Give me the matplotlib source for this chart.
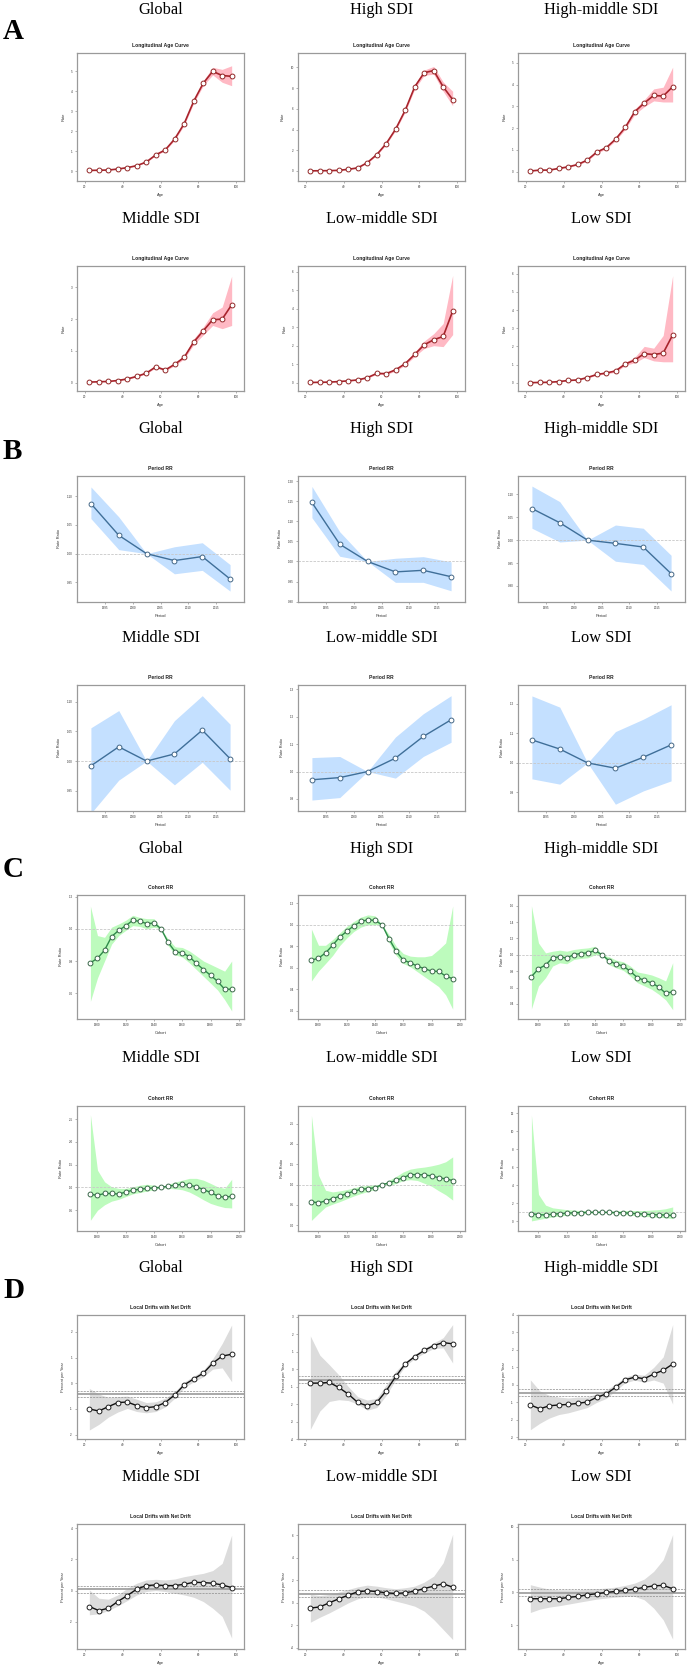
import matplotlib
matplotlib.use("Agg")
import matplotlib.pyplot as plt
from matplotlib.ticker import FixedLocator, FormatStrFormatter

# ---------------- DATA ----------------
REGIONS = ["Global", "High SDI", "High-middle SDI", "Middle SDI", "Low-middle SDI", "Low SDI"]
AGES = [22.5, 27.5, 32.5, 37.5, 42.5, 47.5, 52.5, 57.5, 62.5, 67.5, 72.5, 77.5, 82.5, 87.5, 92.5, 97.5]
PERIODS = [1992.5, 1997.5, 2002.5, 2007.5, 2012.5, 2017.5]
COHORTS = [1895, 1900, 1905, 1910, 1915, 1920, 1925, 1930, 1935, 1940, 1945,
           1950, 1955, 1960, 1965, 1970, 1975, 1980, 1985, 1990, 1995]

# A: Longitudinal age curve (rate, lower, upper)
A_GLOBAL = [0.03, 0.04, 0.05, 0.10, 0.17, 0.27, 0.45, 0.81, 1.06, 1.61, 2.38, 3.50, 4.40, 5.00, 4.79, 4.75]
A_GLOBAL_LO = [0.03, 0.04, 0.05, 0.09, 0.16, 0.26, 0.43, 0.78, 1.02, 1.55, 2.30, 3.40, 4.28, 4.82, 4.45, 4.28]
A_GLOBAL_HI = [0.03, 0.04, 0.05, 0.11, 0.18, 0.28, 0.47, 0.84, 1.10, 1.67, 2.46, 3.60, 4.52, 5.20, 5.10, 5.28]
A_HIGH = [0.01, 0.02, 0.03, 0.06, 0.16, 0.30, 0.80, 1.58, 2.65, 4.06, 5.87, 8.13, 9.50, 9.70, 8.13, 6.90]
A_HIGH_LO = [0.01, 0.02, 0.03, 0.05, 0.14, 0.27, 0.75, 1.50, 2.55, 3.93, 5.70, 7.90, 9.25, 9.35, 7.70, 6.30]
A_HIGH_HI = [0.01, 0.02, 0.03, 0.07, 0.18, 0.33, 0.85, 1.66, 2.75, 4.19, 6.04, 8.36, 9.75, 10.10, 8.60, 7.70]
A_HM = [0.03, 0.07, 0.07, 0.15, 0.22, 0.33, 0.53, 0.90, 1.10, 1.50, 2.03, 2.75, 3.15, 3.50, 3.47, 3.90]
A_HM_LO = [0.03, 0.06, 0.06, 0.13, 0.20, 0.30, 0.49, 0.85, 1.04, 1.43, 1.94, 2.63, 2.98, 3.25, 3.20, 3.20]
A_HM_HI = [0.04, 0.08, 0.08, 0.17, 0.24, 0.36, 0.57, 0.95, 1.16, 1.57, 2.12, 2.87, 3.30, 3.80, 3.88, 4.80]
A_MID = [0.02, 0.03, 0.04, 0.07, 0.12, 0.20, 0.30, 0.50, 0.40, 0.58, 0.80, 1.28, 1.63, 1.98, 2.00, 2.45]
A_MID_LO = [0.02, 0.03, 0.04, 0.06, 0.11, 0.18, 0.28, 0.47, 0.37, 0.54, 0.75, 1.20, 1.50, 1.80, 1.70, 1.80]
A_MID_HI = [0.02, 0.03, 0.04, 0.08, 0.13, 0.22, 0.32, 0.53, 0.43, 0.62, 0.85, 1.38, 1.75, 2.20, 2.38, 3.35]
A_LM = [0.01, 0.02, 0.03, 0.06, 0.10, 0.15, 0.27, 0.50, 0.49, 0.70, 1.03, 1.53, 2.05, 2.32, 2.50, 3.87]
A_LM_LO = [0.01, 0.02, 0.03, 0.05, 0.09, 0.13, 0.24, 0.45, 0.44, 0.63, 0.95, 1.42, 1.85, 2.00, 1.95, 2.60]
A_LM_HI = [0.01, 0.02, 0.03, 0.07, 0.11, 0.17, 0.30, 0.55, 0.54, 0.77, 1.11, 1.65, 2.25, 2.65, 3.20, 5.80]
A_LOW = [0.00, 0.01, 0.02, 0.06, 0.12, 0.15, 0.28, 0.45, 0.53, 0.65, 1.03, 1.24, 1.60, 1.55, 1.63, 2.63]
A_LOW_LO = [0.00, 0.01, 0.02, 0.05, 0.10, 0.13, 0.25, 0.41, 0.48, 0.58, 0.95, 1.10, 1.38, 1.20, 1.15, 1.15]
A_LOW_HI = [0.01, 0.02, 0.03, 0.07, 0.14, 0.18, 0.31, 0.50, 0.58, 0.72, 1.12, 1.40, 2.00, 1.90, 2.60, 5.90]

# B: Period rate ratios
B_GLOBAL = [1.087, 1.032, 1.000, 0.988, 0.995, 0.956]
B_GLOBAL_LO = [1.061, 1.007, 1.000, 0.965, 0.971, 0.935]
B_GLOBAL_HI = [1.116, 1.064, 1.000, 1.012, 1.019, 0.981]
B_HIGH = [1.147, 1.043, 1.000, 0.974, 0.978, 0.962]
B_HIGH_LO = [1.109, 1.013, 1.000, 0.948, 0.948, 0.927]
B_HIGH_HI = [1.187, 1.074, 1.000, 1.008, 1.012, 0.999]
B_HM = [1.069, 1.038, 1.000, 0.993, 0.985, 0.927]
B_HM_LO = [1.026, 0.996, 1.000, 0.954, 0.947, 0.889]
B_HM_HI = [1.118, 1.084, 1.000, 1.033, 1.026, 0.967]
B_MID = [0.992, 1.024, 1.000, 1.012, 1.052, 1.004]
B_MID_LO = [0.912, 0.968, 1.000, 0.960, 0.998, 0.951]
B_MID_HI = [1.056, 1.085, 1.000, 1.068, 1.110, 1.062]
B_LM = [0.970, 0.978, 1.000, 1.049, 1.128, 1.189]
B_LM_LO = [0.896, 0.905, 1.000, 0.976, 1.055, 1.107]
B_LM_HI = [1.051, 1.055, 1.000, 1.126, 1.211, 1.277]
B_LOW = [1.078, 1.047, 1.000, 0.982, 1.019, 1.061]
B_LOW_LO = [0.946, 0.928, 1.000, 0.860, 0.905, 0.939]
B_LOW_HI = [1.227, 1.189, 1.000, 1.106, 1.148, 1.197]

# C: Cohort rate ratios
C_GLOBAL = [0.789, 0.817, 0.867, 0.952, 0.990, 1.019, 1.053, 1.046, 1.032, 1.036, 1.000,
            0.916, 0.857, 0.851, 0.827, 0.785, 0.747, 0.712, 0.674, 0.625, 0.625]
C_GLOBAL_LO = [0.55, 0.695, 0.800, 0.905, 0.958, 0.990, 1.020, 1.015, 1.000, 1.010, 1.000,
               0.895, 0.838, 0.825, 0.789, 0.747, 0.705, 0.663, 0.620, 0.560, 0.490]
C_GLOBAL_HI = [1.141, 0.958, 0.947, 1.010, 1.030, 1.053, 1.084, 1.070, 1.063, 1.063, 1.000,
               0.937, 0.888, 0.884, 0.863, 0.832, 0.800, 0.779, 0.758, 0.737, 0.800]
C_HIGH = [0.671, 0.689, 0.738, 0.809, 0.886, 0.938, 0.991, 1.031, 1.046, 1.040, 1.000,
          0.868, 0.754, 0.671, 0.646, 0.615, 0.591, 0.569, 0.566, 0.523, 0.498]
C_HIGH_LO = [0.477, 0.569, 0.640, 0.714, 0.806, 0.877, 0.938, 0.978, 1.000, 1.000, 1.000,
             0.831, 0.714, 0.640, 0.609, 0.563, 0.517, 0.471, 0.425, 0.348, 0.215]
C_HIGH_HI = [0.960, 0.809, 0.809, 0.862, 0.923, 0.985, 1.031, 1.071, 1.092, 1.083, 1.000,
             0.908, 0.800, 0.732, 0.708, 0.702, 0.702, 0.714, 0.769, 0.831, 1.175]
C_HM = [0.733, 0.830, 0.875, 0.964, 0.976, 0.960, 1.004, 1.016, 1.024, 1.053, 1.000,
        0.927, 0.887, 0.863, 0.798, 0.721, 0.689, 0.657, 0.608, 0.531, 0.548]
C_HM_LO = [0.340, 0.620, 0.721, 0.863, 0.903, 0.891, 0.943, 0.956, 0.964, 1.000, 1.000,
           0.880, 0.840, 0.810, 0.740, 0.660, 0.620, 0.580, 0.520, 0.450, 0.330]
C_HM_HI = [1.600, 1.145, 1.024, 1.044, 1.057, 1.044, 1.065, 1.077, 1.085, 1.105, 1.000,
           0.976, 0.935, 0.915, 0.863, 0.790, 0.774, 0.754, 0.721, 0.681, 0.903]
C_MID = [0.846, 0.830, 0.868, 0.868, 0.855, 0.900, 0.940, 0.963, 0.978, 0.993, 1.000,
         1.030, 1.050, 1.070, 1.050, 1.015, 0.955, 0.890, 0.816, 0.780, 0.810]
C_MID_LO = [0.280, 0.500, 0.620, 0.700, 0.740, 0.800, 0.860, 0.890, 0.920, 0.950, 1.000,
            0.980, 0.970, 0.950, 0.900, 0.820, 0.730, 0.650, 0.600, 0.560, 0.550]
C_MID_HI = [2.600, 1.380, 1.125, 1.015, 0.980, 0.980, 1.015, 1.050, 1.070, 1.050, 1.000,
            1.070, 1.120, 1.160, 1.200, 1.200, 1.160, 1.090, 1.015, 0.980, 1.180]
C_LM = [0.580, 0.550, 0.600, 0.656, 0.713, 0.779, 0.836, 0.885, 0.900, 0.926, 1.000,
        1.040, 1.107, 1.170, 1.245, 1.245, 1.238, 1.213, 1.170, 1.140, 1.100]
C_LM_LO = [0.12, 0.29, 0.45, 0.52, 0.58, 0.65, 0.72, 0.78, 0.83, 0.88, 1.00,
           0.98, 1.03, 1.10, 1.12, 1.10, 1.03, 0.96, 0.85, 0.75, 0.62]
C_LM_HI = [2.70, 1.23, 0.86, 0.82, 0.845, 0.877, 0.92, 0.96, 0.98, 1.00, 1.00,
           1.107, 1.20, 1.31, 1.38, 1.41, 1.43, 1.46, 1.50, 1.56, 1.68]
C_LOW = [0.85, 0.75, 0.70, 0.80, 0.85, 0.90, 0.95, 0.97, 1.00, 1.00, 1.00,
         1.00, 0.97, 0.95, 0.90, 0.85, 0.80, 0.75, 0.72, 0.70, 0.65]
C_LOW_LO = [0.05, 0.20, 0.35, 0.50, 0.60, 0.68, 0.75, 0.82, 0.90, 0.95, 1.00,
            0.92, 0.85, 0.78, 0.70, 0.62, 0.55, 0.50, 0.45, 0.40, 0.30]
C_LOW_HI = [11.8, 3.0, 1.8, 1.5, 1.4, 1.3, 1.25, 1.2, 1.15, 1.1, 1.0,
            1.1, 1.15, 1.2, 1.2, 1.2, 1.2, 1.25, 1.3, 1.4, 1.6]

# D: Local drifts with net drift (percent per year)
D_GLOBAL = [-1.00, -1.08, -0.91, -0.75, -0.73, -0.87, -0.95, -0.91, -0.75, -0.45, -0.06, 0.17, 0.39, 0.78, 1.06, 1.13]
D_GLOBAL_LO = [-1.82, -1.60, -1.32, -1.12, -0.98, -1.10, -1.15, -1.10, -0.92, -0.58, -0.17, 0.06, 0.25, 0.55, 0.60, 0.06]
D_GLOBAL_HI = [-0.20, -0.42, -0.55, -0.52, -0.50, -0.62, -0.75, -0.72, -0.58, -0.33, 0.05, 0.28, 0.50, 0.95, 1.55, 2.27]
D_HIGH = [-0.80, -0.80, -0.76, -1.05, -1.43, -1.91, -2.10, -1.91, -1.24, -0.42, 0.30, 0.72, 1.07, 1.35, 1.52, 1.45]
D_HIGH_LO = [-3.45, -2.40, -1.85, -1.75, -1.80, -2.00, -2.35, -2.20, -1.50, -0.60, 0.18, 0.60, 0.92, 1.18, 1.22, 0.35]
D_HIGH_HI = [1.90, 0.80, 0.25, -0.33, -1.00, -1.58, -1.77, -1.67, -0.90, -0.13, 0.42, 0.85, 1.20, 1.50, 1.80, 2.55]
D_HM = [-1.15, -1.37, -1.20, -1.15, -1.12, -1.06, -0.98, -0.71, -0.52, -0.13, 0.29, 0.44, 0.35, 0.62, 0.83, 1.19]
D_HM_LO = [-2.57, -2.20, -1.90, -1.70, -1.60, -1.45, -1.30, -1.00, -0.78, -0.33, 0.12, 0.27, 0.15, 0.28, 0.10, -1.10]
D_HM_HI = [0.29, -0.35, -0.60, -0.70, -0.75, -0.70, -0.70, -0.50, -0.30, 0.05, 0.45, 0.60, 0.55, 1.00, 1.60, 3.45]
D_MID = [-1.02, -1.28, -1.13, -0.70, -0.32, 0.09, 0.32, 0.36, 0.32, 0.32, 0.40, 0.53, 0.51, 0.47, 0.36, 0.19]
D_MID_LO = [-1.55, -1.49, -1.28, -0.98, -0.64, -0.28, -0.06, 0.00, -0.06, -0.17, -0.28, -0.43, -0.70, -1.13, -1.66, -3.04]
D_MID_HI = [0.04, -0.49, -0.55, -0.28, 0.15, 0.47, 0.68, 0.72, 0.68, 0.74, 0.89, 1.00, 1.10, 1.28, 1.74, 3.55]
D_LM = [-0.47, -0.36, 0.00, 0.36, 0.68, 0.98, 1.07, 1.00, 0.89, 0.83, 0.89, 1.04, 1.27, 1.48, 1.69, 1.39]
D_LM_LO = [-1.72, -1.28, -0.89, -0.45, 0.00, 0.36, 0.53, 0.53, 0.36, 0.15, -0.06, -0.30, -0.74, -1.48, -2.37, -3.26]
D_LM_HI = [0.74, 0.65, 0.74, 0.95, 1.19, 1.42, 1.57, 1.48, 1.34, 1.25, 1.34, 1.48, 1.84, 2.37, 3.56, 6.08]
D_LOW = [-0.96, -0.96, -0.96, -0.96, -0.76, -0.61, -0.36, -0.20, 0.00, 0.15, 0.30, 0.51, 0.76, 1.00, 1.07, 0.56]
D_LOW_LO = [-3.05, -2.54, -2.23, -2.03, -1.78, -1.52, -1.27, -1.02, -0.86, -0.71, -0.61, -0.61, -1.12, -2.39, -4.16, -7.10]
D_LOW_HI = [1.17, 0.81, 0.50, 0.40, 0.40, 0.40, 0.50, 0.56, 0.66, 0.81, 1.07, 1.42, 2.03, 3.20, 4.97, 8.78]
# net drift: estimate, lower, upper
NET_DRIFT = [-0.42, -0.61, -0.44, 0.08, 0.80, -0.10]
NET_DRIFT_LO = [-0.52, -0.80, -0.62, -0.17, 0.53, -0.61]
NET_DRIFT_HI = [-0.29, -0.38, -0.25, 0.28, 1.10, 0.46]

# ---------------- LAYOUT ----------------
W, H = 688, 1667
fig = plt.figure(figsize=(W / 100, H / 100), dpi=100)
fig.patch.set_facecolor("white")

COL_LEFT = [77, 298, 518]
BOX_W = 167
ROW_TOP = [53, 266, 476, 685, 895, 1106, 1315, 1524]
BOX_H = [128, 125, 126, 126, 124, 125, 124, 125]
TITLE_BASE = [14, 223, 433, 642, 853, 1062, 1272, 1481]
LETTER_BASE = {"A": 39, "B": 459, "C": 877, "D": 1298}

SERIF = ["Liberation Serif", "DejaVu Serif"]
SANS = ["Liberation Sans", "DejaVu Sans"]
FRAME = "#9a9a9a"
MS = 3.5
MEW = 0.65


def fy(py):
    return 1 - py / H


def make_ax(row, col):
    x0 = COL_LEFT[col]
    top = ROW_TOP[row]
    h = BOX_H[row]
    ax = fig.add_axes([x0 / W, fy(top + h), BOX_W / W, h / H])
    for s in ax.spines.values():
        s.set_color(FRAME)
        s.set_linewidth(0.9)
    ax.tick_params(axis="both", which="major", length=1.6, width=0.4, color="#777777",
                   labelsize=2.2, pad=1.4, labelcolor="#333333")
    return ax


def style_labels(ax, title, xlabel, ylabel):
    ax.set_title(title, fontsize=3.6, fontweight="bold", family=SANS, pad=4, color="#222222")
    ax.set_xlabel(xlabel, fontsize=2.9, family=SANS, labelpad=2.5, color="#333333")
    ax.set_ylabel(ylabel, fontsize=2.9, family=SANS, labelpad=4, color="#333333")
    for lab in ax.get_xticklabels() + ax.get_yticklabels():
        lab.set_family(SANS)


PANELS_A = [
    (A_GLOBAL, A_GLOBAL_LO, A_GLOBAL_HI, (-0.5, 5.92), [0, 1, 2, 3, 4, 5]),
    (A_HIGH, A_HIGH_LO, A_HIGH_HI, (-0.97, 11.4), [0, 2, 4, 6, 8, 10]),
    (A_HM, A_HM_LO, A_HM_HI, (-0.43, 5.45), [0, 1, 2, 3, 4, 5]),
    (A_MID, A_MID_LO, A_MID_HI, (-0.26, 3.67), [0, 1, 2, 3]),
    (A_LM, A_LM_LO, A_LM_HI, (-0.45, 6.31), [0, 1, 2, 3, 4, 5, 6]),
    (A_LOW, A_LOW_LO, A_LOW_HI, (-0.46, 6.43), [0, 1, 2, 3, 4, 5, 6]),
]
PANELS_B = [
    (B_GLOBAL, B_GLOBAL_LO, B_GLOBAL_HI, (0.916, 1.135), [0.95, 1.00, 1.05, 1.10], "%.2f"),
    (B_HIGH, B_HIGH_LO, B_HIGH_HI, (0.899, 1.213), [0.90, 0.95, 1.00, 1.05, 1.10, 1.15, 1.20], "%.2f"),
    (B_HM, B_HM_LO, B_HM_HI, (0.865, 1.140), [0.90, 0.95, 1.00, 1.05, 1.10], "%.2f"),
    (B_MID, B_MID_LO, B_MID_HI, (0.916, 1.128), [0.95, 1.00, 1.05, 1.10], "%.2f"),
    (B_LM, B_LM_LO, B_LM_HI, (0.856, 1.316), [0.9, 1.0, 1.1, 1.2, 1.3], "%.1f"),
    (B_LOW, B_LOW_LO, B_LOW_HI, (0.837, 1.264), [0.9, 1.0, 1.1, 1.2], "%.1f"),
]
PANELS_C = [
    (C_GLOBAL, C_GLOBAL_LO, C_GLOBAL_HI, (0.44, 1.21), [0.6, 0.8, 1.0, 1.2], "%.1f"),
    (C_HIGH, C_HIGH_LO, C_HIGH_HI, (0.123, 1.277), [0.2, 0.4, 0.6, 0.8, 1.0, 1.2], "%.1f"),
    (C_HM, C_HM_LO, C_HM_HI, (0.216, 1.731), [0.4, 0.6, 0.8, 1.0, 1.2, 1.4, 1.6], "%.1f"),
    (C_MID, C_MID_LO, C_MID_HI, (0.044, 2.79), [0.5, 1.0, 1.5, 2.0, 2.5], "%.1f"),
    (C_LM, C_LM_LO, C_LM_HI, (-0.14, 2.93), [0.0, 0.5, 1.0, 1.5, 2.0, 2.5], "%.1f"),
    (C_LOW, C_LOW_LO, C_LOW_HI, (-1.07, 12.8), [0, 2, 4, 6, 8, 10, 12], "%d"),
]
PANELS_D = [
    (D_GLOBAL, D_GLOBAL_LO, D_GLOBAL_HI, (-2.17, 2.66), [-2, -1, 0, 1, 2]),
    (D_HIGH, D_HIGH_LO, D_HIGH_HI, (-4.0, 3.1), [-4, -3, -2, -1, 0, 1, 2, 3]),
    (D_HM, D_HM_LO, D_HM_HI, (-3.1, 4.0), [-3, -2, -1, 0, 1, 2, 3, 4]),
    (D_MID, D_MID_LO, D_MID_HI, (-3.74, 4.26), [-2, 0, 2, 4]),
    (D_LM, D_LM_LO, D_LM_HI, (-4.1, 7.0), [-4, -2, 0, 2, 4, 6]),
    (D_LOW, D_LOW_LO, D_LOW_HI, (-8.6, 10.4), [-5, 0, 5, 10]),
]

AGE_XLIM = (16, 104)
AGE_TICKS = [20, 40, 60, 80, 100]

for sec_i, sec in enumerate(["A", "B", "C", "D"]):
    for k in range(6):
        row = sec_i * 2 + k // 3
        col = k % 3
        ax = make_ax(row, col)
        if sec == "A":
            y, lo, hi, yl, yt = PANELS_A[k]
            ax.fill_between(AGES, lo, hi, color="#FFB9C4", lw=0, zorder=1)
            ax.plot(AGES, y, color="#A8242C", lw=1.2, zorder=3, marker="o", ms=MS,
                    mfc="white", mec="#8B1A1A", mew=MEW)
            ax.set_xlim(*AGE_XLIM)
            ax.xaxis.set_major_locator(FixedLocator(AGE_TICKS))
            ax.set_ylim(*yl)
            ax.yaxis.set_major_locator(FixedLocator(yt))
            ax.yaxis.set_major_formatter(FormatStrFormatter("%d"))
            style_labels(ax, "Longitudinal Age Curve", "Age", "Rate")
        elif sec == "B":
            y, lo, hi, yl, yt, fmt = PANELS_B[k]
            ax.axhline(1.0, color="#c8c8c8", lw=0.6, ls=(0, (3, 1.5)), zorder=2)
            ax.fill_between(PERIODS, lo, hi, color="#C4E0FF", lw=0, zorder=1)
            ax.plot(PERIODS, y, color="#3F6F99", lw=1.0, zorder=3, marker="o", ms=MS,
                    mfc="white", mec="#3A5F80", mew=MEW)
            ax.set_xlim(1990, 2020)
            ax.xaxis.set_major_locator(FixedLocator([1995, 2000, 2005, 2010, 2015]))
            ax.set_ylim(*yl)
            ax.yaxis.set_major_locator(FixedLocator(yt))
            ax.yaxis.set_major_formatter(FormatStrFormatter(fmt))
            style_labels(ax, "Period RR", "Period", "Rate Ratio")
        elif sec == "C":
            y, lo, hi, yl, yt, fmt = PANELS_C[k]
            ax.axhline(1.0, color="#c8c8c8", lw=0.6, ls=(0, (3, 1.5)), zorder=2)
            ax.fill_between(COHORTS, lo, hi, color="#BDFBBD", lw=0, zorder=1)
            ax.plot(COHORTS, y, color="#2E8B4A", lw=1.0, zorder=3, marker="o", ms=MS,
                    mfc="white", mec="#2F5F3F", mew=MEW)
            ax.set_xlim(1885.5, 2003.7)
            ax.xaxis.set_major_locator(FixedLocator([1900, 1920, 1940, 1960, 1980, 2000]))
            ax.set_ylim(*yl)
            ax.yaxis.set_major_locator(FixedLocator(yt))
            ax.yaxis.set_major_formatter(FormatStrFormatter(fmt))
            style_labels(ax, "Cohort RR", "Cohort", "Rate Ratio")
        else:
            y, lo, hi, yl, yt = PANELS_D[k]
            ax.fill_between(AGES, lo, hi, color="#DCDCDC", lw=0, zorder=1)
            ax.axhline(NET_DRIFT[k], color="#9a9a9a", lw=1.2, zorder=2)
            ax.axhline(NET_DRIFT_LO[k], color="#8c8c8c", lw=0.5, ls=(0, (3, 1.5)), zorder=2)
            ax.axhline(NET_DRIFT_HI[k], color="#8c8c8c", lw=0.5, ls=(0, (3, 1.5)), zorder=2)
            ax.plot(AGES, y, color="#111111", lw=1.0, zorder=3, marker="o", ms=MS,
                    mfc="white", mec="#111111", mew=MEW)
            ax.set_xlim(*AGE_XLIM)
            ax.xaxis.set_major_locator(FixedLocator(AGE_TICKS))
            ax.set_ylim(*yl)
            ax.yaxis.set_major_locator(FixedLocator(yt))
            ax.yaxis.set_major_formatter(FormatStrFormatter("%d"))
            style_labels(ax, "Local Drifts with Net Drift", "Age", "Percent per Year")

        # region title above the panel
        cx = COL_LEFT[col] + BOX_W / 2
        fig.text(cx / W, fy(TITLE_BASE[row]), REGIONS[k], ha="center", va="baseline",
                 fontsize=11.8, family=SERIF, color="black")

    fig.text(3 / W, fy(LETTER_BASE[sec]), sec, ha="left", va="baseline",
             fontsize=21, fontweight="bold", family=SERIF, color="black")

fig.savefig("out.png", dpi=100, facecolor="white")
